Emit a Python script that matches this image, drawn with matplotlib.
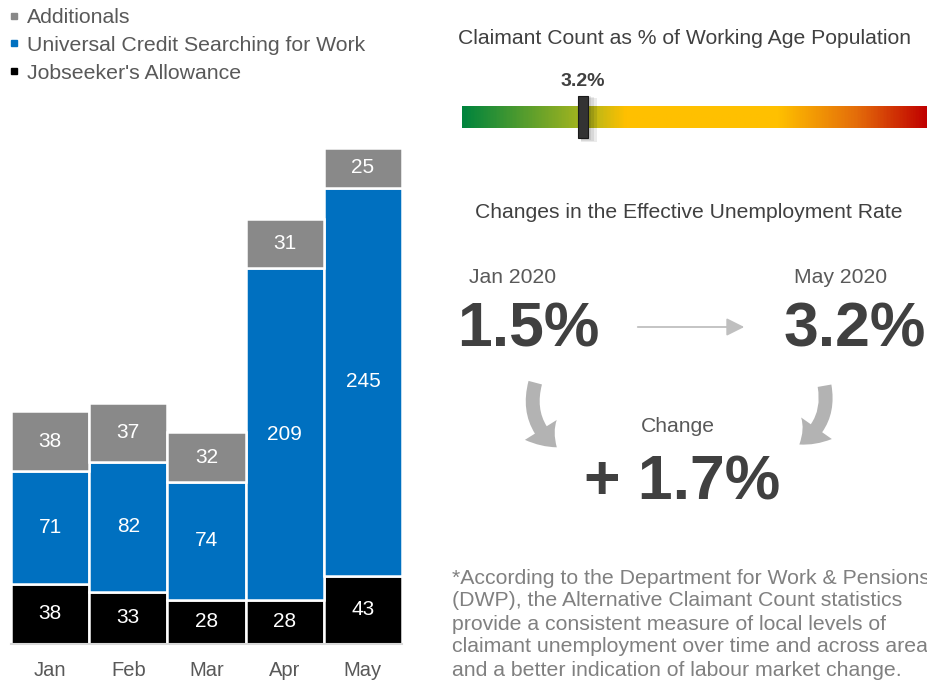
import matplotlib
matplotlib.use("Agg")
import matplotlib.pyplot as plt
import numpy as np
from matplotlib.colors import LinearSegmentedColormap
from matplotlib.lines import Line2D
from matplotlib.patches import FancyArrowPatch, Rectangle

plt.rcParams["font.family"] = ["Liberation Sans", "DejaVu Sans"]

# data
months = ["Jan", "Feb", "Mar", "Apr", "May"]
jsa = [38, 33, 28, 28, 43]
uc_searching = [71, 82, 74, 209, 245]
additionals = [38, 37, 32, 31, 25]
series_names = ["Additionals", "Universal Credit Searching for Work", "Jobseeker's Allowance"]

gauge_title = "Claimant Count as % of Working Age Population"
gauge_value = 3.2
gauge_max = 12.3
rate_title = "Changes in the Effective Unemployment Rate"
rate_start_label, rate_start = "Jan 2020", 1.5
rate_end_label, rate_end = "May 2020", 3.2
footnote = ["*According to the Department for Work & Pensions",
            "(DWP), the Alternative Claimant Count statistics",
            "provide a consistent measure of local levels of",
            "claimant unemployment over time and across areas,",
            "and a better indication of labour market change."]

W, H = 928, 681
GREY, BLUE, BLACK = "#898989", "#0070C0", "#000000"
DARK, MID, LIGHT = "#404040", "#595959", "#808080"


def fx(x):
    return x / W


def fy(y):
    return 1 - y / H


fig = plt.figure(figsize=(W / 100, H / 100), dpi=100)

# stacked bars
ax = fig.add_axes([fx(11), fy(644), fx(402) - fx(11), fy(148) - fy(644)])
x = np.arange(len(months))
bottom = np.zeros(len(months))
for vals, col in ((jsa, BLACK), (uc_searching, BLUE), (additionals, GREY)):
    bars = ax.bar(x, vals, width=1.0, bottom=bottom, color=col, edgecolor="white", linewidth=1.8)
    ax.bar_label(bars, labels=[str(v) for v in vals], label_type="center", color="white", fontsize=15)
    bottom += np.array(vals)
ax.set_xlim(-0.5, len(months) - 0.5)
ax.set_ylim(0, bottom.max())
ax.set_xticks(x, months, fontsize=14.5, color=MID)
ax.tick_params(length=0, pad=12)
ax.set_yticks([])
for s in ("top", "right", "left"):
    ax.spines[s].set_visible(False)
ax.spines["bottom"].set_color("#d9d9d9")
ax.spines["bottom"].set_linewidth(1.5)

handles = [Line2D([], [], marker="s", ls="none", color=c, markersize=5) for c in (GREY, BLUE, BLACK)]
fig.legend(handles, series_names, loc="upper left", bbox_to_anchor=(fx(9), fy(8)), frameon=False,
           fontsize=15.3, labelcolor=MID, handlelength=0.5, handletextpad=0.35, labelspacing=0.42,
           borderpad=0, borderaxespad=0)

# gauge
fig.text(fx(685), fy(39), gauge_title, ha="center", va="center", fontsize=15.2, color=DARK)
gx = fig.add_axes([fx(462), fy(128), 1 - fx(462), fy(106) - fy(128)])
cmap = LinearSegmentedColormap.from_list("gauge", [(0, "#00843D"), (0.26, "#A8B51E"), (0.35, "#FFC000"),
                                                  (0.68, "#FFC000"), (0.85, "#E46C0A"), (1, "#C00000")])
gx.imshow(np.linspace(0, 1, 400)[None, :], cmap=cmap, aspect="auto", extent=(0, gauge_max, 0, 1))
gx.set_xlim(0, gauge_max)
gx.set_ylim(0, 1)
gx.axis("off")
mw = gauge_max * 10 / 466
for i in range(3):
    gx.add_patch(Rectangle((gauge_value - mw / 2 + mw * 0.3, -0.55 - 0.05 * i), mw * (1 + 0.3 * i), 2.0,
                           color="black", alpha=0.08, lw=0, clip_on=False, zorder=3))
gx.add_patch(Rectangle((gauge_value - mw / 2, -0.45), mw, 1.9, facecolor="#333333", edgecolor="#1a1a1a",
                       lw=0.8, clip_on=False, zorder=4))
gx.text(gauge_value, 1.75, f"{gauge_value}%", ha="center", va="bottom", fontsize=14, fontweight="bold",
        color=DARK)

# unemployment rate change
fig.text(fx(689), fy(213), rate_title, ha="center", va="center", fontsize=15.2, color=DARK)
fig.text(fx(513), fy(277), rate_start_label, ha="center", va="center", fontsize=15.2, color=MID)
fig.text(fx(841), fy(277), rate_end_label, ha="center", va="center", fontsize=15.2, color=MID)
fig.text(fx(528), fy(330), f"{rate_start}%", ha="center", va="center", fontsize=45, fontweight="bold",
         color=DARK)
fig.text(fx(855), fy(330), f"{rate_end}%", ha="center", va="center", fontsize=45, fontweight="bold",
         color=DARK)
fig.add_artist(FancyArrowPatch((fx(635), fy(327)), (fx(747), fy(327)), transform=fig.transFigure,
                               arrowstyle="-|>,head_length=0.9,head_width=0.45", mutation_scale=12,
                               color="#bfbfbf", lw=1.3))
arrow_style = "simple,tail_width=10,head_width=27,head_length=17"
fig.add_artist(FancyArrowPatch((fx(536), fy(380)), (fx(559), fy(449)), transform=fig.transFigure,
                               connectionstyle="arc3,rad=0.35", arrowstyle=arrow_style,
                               mutation_scale=1, color="#b3b3b3", lw=0))
fig.add_artist(FancyArrowPatch((fx(824), fy(383)), (fx(797), fy(446)), transform=fig.transFigure,
                               connectionstyle="arc3,rad=-0.35", arrowstyle=arrow_style,
                               mutation_scale=1, color="#b3b3b3", lw=0))
fig.text(fx(678), fy(427), "Change", ha="center", va="center", fontsize=15.2, color=MID)
fig.text(fx(682), fy(483), f"+ {rate_end - rate_start:.1f}%", ha="center", va="center", fontsize=45,
         fontweight="bold", color=DARK)

for i, line in enumerate(footnote):
    fig.text(fx(452), fy(578 + 23 * i), line, ha="left", va="center", fontsize=15.3, color=LIGHT)

fig.savefig("out.png", dpi=100)
